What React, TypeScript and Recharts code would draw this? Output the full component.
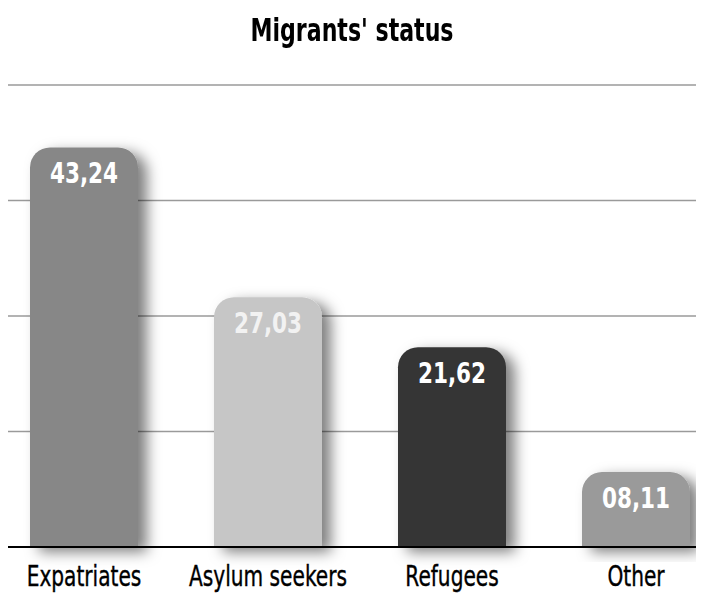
import React from 'react';
import { BarChart, Bar, XAxis, YAxis, CartesianGrid, LabelList, Cell } from 'recharts';

const categories = ['Expatriates', 'Asylum seekers', 'Refugees', 'Other'];
const shares = [43.24, 27.03, 21.62, 8.11];
const barColors = ['#878787', '#c6c6c6', '#353535', '#9a9a9a'];
const labelColors = ['#ffffff', '#f2f2f2', '#ffffff', '#ffffff'];
const yTicks = [0, 12.5, 25, 37.5, 50];

const data = categories.map((name, i) => ({ name, value: shares[i] }));

const fontFamily = '"DejaVu Sans", sans-serif';

const fmt = (v: number) => v.toFixed(2).replace('.', ',').padStart(5, '0');

// DejaVu has no condensed face here, so squeeze text horizontally
const ValueLabel = (props: any) => {
    const { x, y, width, value, index } = props;
    return (
        <g transform={`translate(${x + width / 2},${y + 36}) scale(0.77,1)`}>
            <text
                x={0}
                y={0}
                textAnchor="middle"
                fill={labelColors[index] || '#fff'}
                fontSize={28}
                fontWeight="bold"
                fontFamily={fontFamily}
            >
                {fmt(value)}
            </text>
        </g>
    );
};

const CatTick = (props: any) => {
    const { x, y, payload } = props;
    return (
        <g transform={`translate(${x},${y + 31}) scale(0.72,1)`}>
            <text
                x={0}
                y={0}
                textAnchor="middle"
                fill="#000"
                fontSize={28}
                fontFamily={fontFamily}
                stroke="#000"
                strokeWidth={0.4}
            >
                {payload.value}
            </text>
        </g>
    );
};

const App: React.FC = () => {
    return (
        <div style={{ position: 'relative', width: 696, height: 586, fontFamily }}>
            <div
                style={{
                    position: 'absolute',
                    left: -8,
                    top: 3,
                    width: 704,
                    textAlign: 'center',
                    fontSize: 32,
                    fontWeight: 'bold',
                    color: '#000',
                    transform: 'scaleX(0.69)',
                }}
            >
                Migrants' status
            </div>
            <BarChart
                width={696}
                height={586}
                data={data}
                margin={{ top: 77, right: 0, left: 0, bottom: 0 }}
                barSize={108}
            >
                <defs>
                    <filter id="barShadow" x="-20%" y="-20%" width="160%" height="140%">
                        <feDropShadow dx={9} dy={5} stdDeviation={7} floodColor="#000" floodOpacity={0.5} />
                    </filter>
                </defs>
                <CartesianGrid vertical={false} stroke="#9a9a9a" strokeWidth={1.5} />
                <XAxis
                    dataKey="name"
                    height={47}
                    padding={{ left: -16, right: -24 }}
                    axisLine={{ stroke: '#000', strokeWidth: 2 }}
                    tickLine={false}
                    tick={<CatTick />}
                    interval={0}
                />
                <YAxis hide domain={[0, 50]} ticks={yTicks} />
                <Bar
                    dataKey="value"
                    radius={[20, 20, 0, 0]}
                    isAnimationActive={false}
                    style={{ filter: 'url(#barShadow)' }}
                >
                    {data.map((d, i) => (
                        <Cell key={d.name} fill={barColors[i]} />
                    ))}
                    <LabelList dataKey="value" content={<ValueLabel />} />
                </Bar>
            </BarChart>
        </div>
    );
};

export default App;
